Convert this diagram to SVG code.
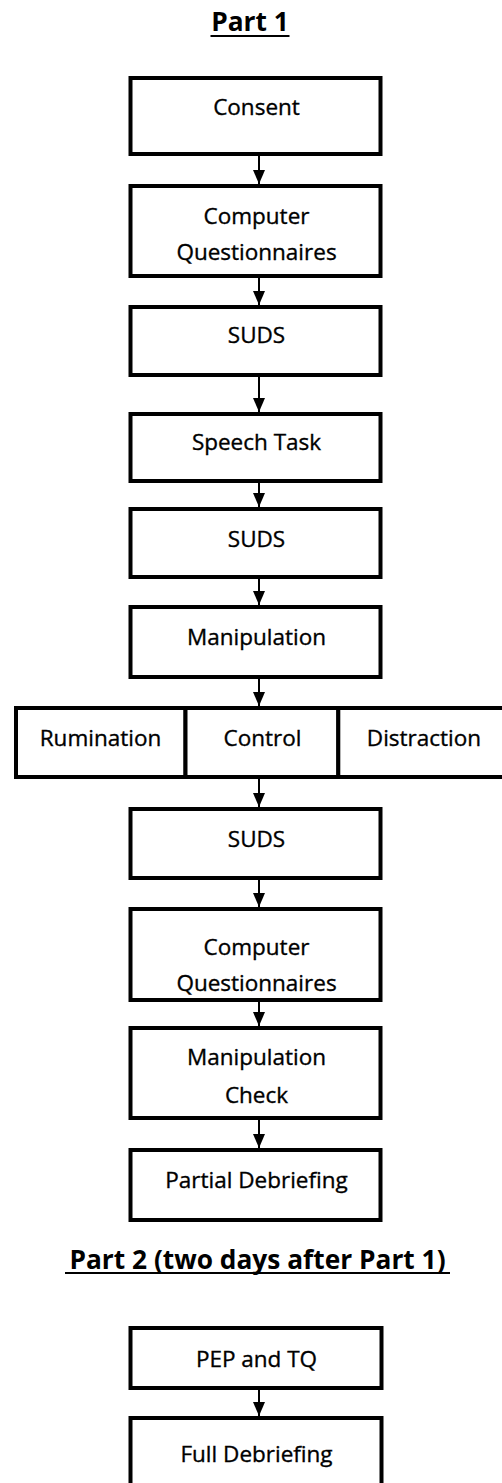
<svg xmlns="http://www.w3.org/2000/svg" width="502" height="1483" viewBox="0 0 502 1483">
<style>
  .box { fill: #ffffff; stroke: #000000; stroke-width: 4; }
  .lbl { font-family: "Open Sans", "Noto Sans", "DejaVu Sans", sans-serif; font-size: 22.5px; fill: #000000; stroke: #000000; stroke-width: 0.35; text-anchor: middle; }
  .ttl { font-family: "Open Sans", "Noto Sans", "DejaVu Sans", sans-serif; font-size: 26.3px; font-weight: bold; fill: #000000; text-anchor: middle; }
  .ul { stroke: #000000; stroke-width: 2.2; }
  .conn { stroke: #000000; stroke-width: 2; fill: none; marker-end: url(#arrow); }
</style>
<defs>
  <marker id="arrow" markerUnits="userSpaceOnUse" markerWidth="14" markerHeight="12" refX="14" refY="6" orient="auto">
    <path d="M0,0 L14,6 L0,12 z" fill="#000000"/>
  </marker>
</defs>
<rect x="0" y="0" width="502" height="1483" fill="#ffffff"/>

<g id="title-part1">
  <text class="ttl" x="250" y="31">Part 1</text>
  <line class="ul" x1="210.5" y1="36" x2="289.5" y2="36"/>
</g>

<g id="consent">
  <rect class="box" x="130.5" y="78" width="250" height="76"/>
  <text class="lbl" x="256.5" y="115">Consent</text>
</g>
<g id="computer-questionnaires-1">
  <rect class="box" x="130.5" y="186" width="250" height="90"/>
  <text class="lbl" x="256.5" y="224">Computer</text>
  <text class="lbl" x="256.5" y="260">Questionnaires</text>
</g>
<g id="suds-1">
  <rect class="box" x="130.5" y="307" width="250" height="68"/>
  <text class="lbl" x="256.5" y="343">SUDS</text>
</g>
<g id="speech-task">
  <rect class="box" x="130.5" y="414" width="250" height="67"/>
  <text class="lbl" x="256.5" y="450">Speech Task</text>
</g>
<g id="suds-2">
  <rect class="box" x="130.5" y="509" width="250" height="68"/>
  <text class="lbl" x="256.5" y="547">SUDS</text>
</g>
<g id="manipulation">
  <rect class="box" x="130.5" y="607" width="250" height="70"/>
  <text class="lbl" x="256.5" y="645">Manipulation</text>
</g>
<g id="rumination">
  <rect class="box" x="16" y="708" width="169.5" height="69"/>
  <text class="lbl" x="100.5" y="746">Rumination</text>
</g>
<g id="control">
  <rect class="box" x="185.5" y="708" width="152.8" height="69"/>
  <text class="lbl" x="262.5" y="746">Control</text>
</g>
<g id="distraction">
  <rect class="box" x="338.3" y="708" width="172" height="69"/>
  <text class="lbl" x="424" y="746">Distraction</text>
</g>
<g id="suds-3">
  <rect class="box" x="130.5" y="809" width="250" height="69"/>
  <text class="lbl" x="256.5" y="847">SUDS</text>
</g>
<g id="computer-questionnaires-2">
  <rect class="box" x="130.5" y="909" width="250" height="91"/>
  <text class="lbl" x="256.5" y="955">Computer</text>
  <text class="lbl" x="256.5" y="991">Questionnaires</text>
</g>
<g id="manipulation-check">
  <rect class="box" x="130.5" y="1028" width="250" height="90"/>
  <text class="lbl" x="256.5" y="1065">Manipulation</text>
  <text class="lbl" x="256.5" y="1103">Check</text>
</g>
<g id="partial-debriefing">
  <rect class="box" x="130.5" y="1150" width="250" height="70"/>
  <text class="lbl" x="256.5" y="1188">Partial Debriefing</text>
</g>

<g id="title-part2">
  <text class="ttl" x="257.5" y="1269">Part 2 (two days after Part 1)</text>
  <line class="ul" x1="65" y1="1273" x2="450" y2="1273"/>
</g>

<g id="pep-tq">
  <rect class="box" x="130.5" y="1328" width="251" height="60"/>
  <text class="lbl" x="256.5" y="1367">PEP and TQ</text>
</g>
<g id="full-debriefing">
  <rect class="box" x="130.5" y="1418" width="251" height="80"/>
  <text class="lbl" x="256.5" y="1462">Full Debriefing</text>
</g>

<g id="connectors">
  <line class="conn" x1="259" y1="156" x2="259" y2="184"/>
  <line class="conn" x1="259" y1="278" x2="259" y2="305"/>
  <line class="conn" x1="259" y1="377" x2="259" y2="412"/>
  <line class="conn" x1="259" y1="483" x2="259" y2="507"/>
  <line class="conn" x1="259" y1="579" x2="259" y2="605"/>
  <line class="conn" x1="259" y1="679" x2="259" y2="706"/>
  <line class="conn" x1="259" y1="779" x2="259" y2="807"/>
  <line class="conn" x1="259" y1="880" x2="259" y2="907"/>
  <line class="conn" x1="259" y1="1002" x2="259" y2="1026"/>
  <line class="conn" x1="259" y1="1120" x2="259" y2="1148"/>
  <line class="conn" x1="259" y1="1390" x2="259" y2="1416"/>
</g>
</svg>
